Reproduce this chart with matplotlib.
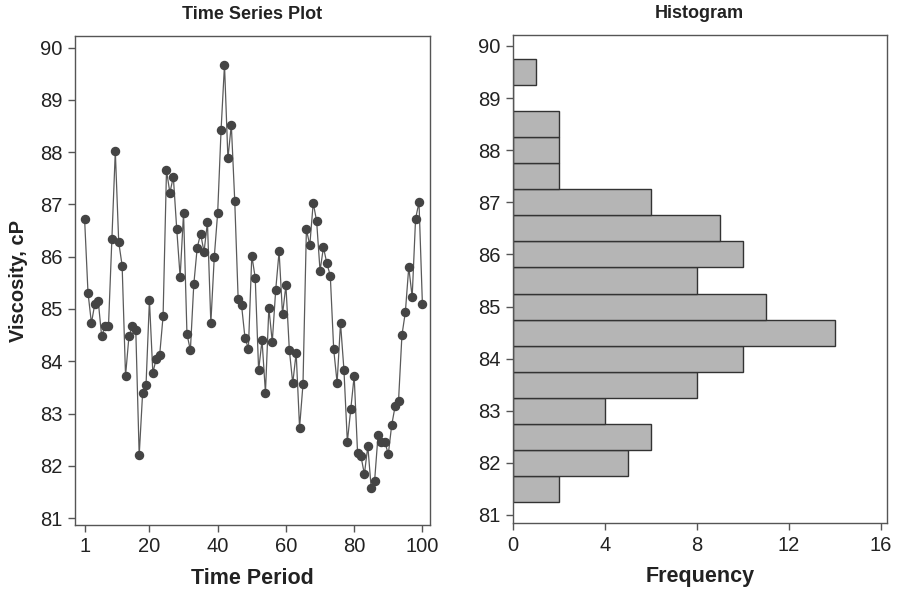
import numpy as np
import matplotlib
matplotlib.use('Agg')
from matplotlib import pyplot as plt

plt.rcParams['font.family'] = ['Liberation Sans', 'DejaVu Sans']

# viscosity readings, cP, for time periods 1..100
viscosity = [
    86.72, 85.31, 84.73, 85.10, 85.15, 84.48, 84.67, 84.67, 86.34, 88.02,
    86.28, 85.83, 83.72, 84.48, 84.67, 84.60, 82.20, 83.39, 83.54, 85.17,
    83.78, 84.05, 84.12, 84.86, 87.65, 87.22, 87.53, 86.53, 85.61, 86.84,
    84.52, 84.21, 85.47, 86.17, 86.44, 86.09, 86.66, 84.73, 85.99, 86.84,
    88.43, 89.67, 87.88, 88.52, 87.07, 85.20, 85.07, 84.45, 84.24, 86.02,
    85.60, 83.83, 84.40, 83.40, 85.02, 84.37, 85.36, 86.10, 84.90, 85.45,
    84.22, 83.58, 84.16, 82.73, 83.56, 86.52, 86.22, 87.03, 86.68, 85.73,
    86.18, 85.87, 85.64, 84.23, 83.59, 84.73, 83.84, 82.46, 83.08, 83.72,
    82.24, 82.18, 81.84, 82.38, 81.57, 81.72, 82.59, 82.46, 82.46, 82.22,
    82.78, 83.14, 83.24, 84.50, 84.94, 85.80, 85.23, 86.73, 87.04, 85.09,
]
period = np.arange(1, len(viscosity) + 1)

bin_edges = np.arange(81.25, 89.76, 0.5)
y_ticks = list(range(81, 91))
period_ticks = [1, 20, 40, 60, 80, 100]
freq_ticks = [0, 4, 8, 12, 16]

txt = '#222222'
spine = '#555555'

fig = plt.figure(figsize=(9.03, 5.93), dpi=100)

# left: time series
ax1 = fig.add_axes([0.0831, 0.1147, 0.393, 0.8246])
ax1.plot(period, viscosity, '-', color='#5a5a5a', lw=0.9,
         marker='o', ms=5.8, mfc='#444444', mec='#444444')
ax1.set_xlim(-1.8, 102.2)
ax1.set_ylim(80.87, 90.22)
ax1.set_xticks(period_ticks)
ax1.set_yticks(y_ticks)
ax1.set_title('Time Series Plot', fontsize=13, fontweight='bold', color=txt, pad=12)
ax1.set_xlabel('Time Period', fontsize=15.5, fontweight='bold', color=txt, labelpad=8)
ax1.set_ylabel('Viscosity, cP', fontsize=14.5, fontweight='bold', color=txt, labelpad=9)

# right: histogram
ax2 = fig.add_axes([0.5678, 0.1175, 0.4142, 0.8234])
ax2.hist(viscosity, bins=bin_edges, orientation='horizontal',
         color='#b5b5b5', edgecolor='#333333', linewidth=1.0)
ax2.set_xlim(0, 16.25)
ax2.set_ylim(80.84, 90.21)
ax2.set_xticks(freq_ticks)
ax2.set_yticks(y_ticks)
ax2.set_title('Histogram', fontsize=13, fontweight='bold', color=txt, pad=12)
ax2.set_xlabel('Frequency', fontsize=15.5, fontweight='bold', color=txt, labelpad=8)

for ax in (ax1, ax2):
    for s in ax.spines.values():
        s.set_color(spine)
        s.set_linewidth(1.0)
    ax.tick_params(direction='out', length=5, width=1, color=spine,
                   labelsize=14.5, labelcolor=txt, pad=4)

fig.savefig('out.png', dpi=100)
